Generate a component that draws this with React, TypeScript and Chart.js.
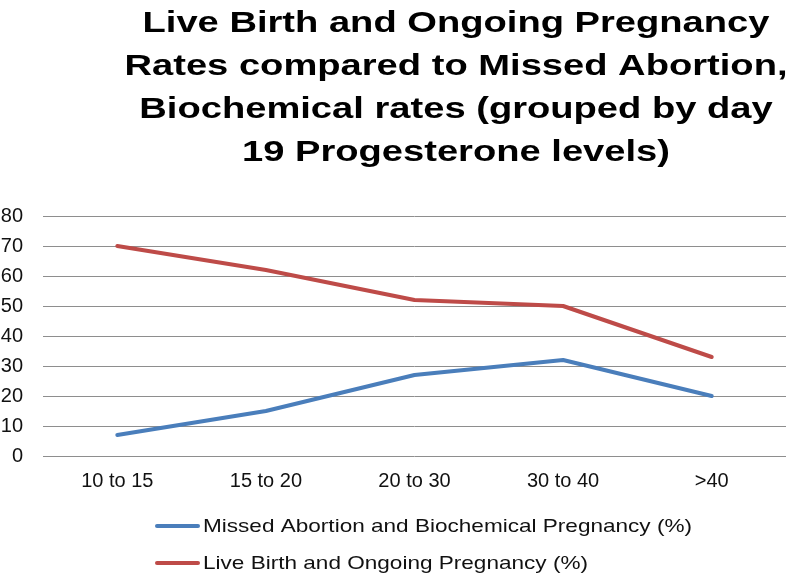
import React, { useEffect, useRef } from "react";
import { Chart, registerables } from "chart.js";

Chart.register(...registerables);

const categories = ["10 to 15", "15 to 20", "20 to 30", "30 to 40", ">40"];
const missedAbortion = [7, 15, 27, 32, 20];
const liveBirth = [70, 62, 52, 50, 33];
const seriesLabels = [
  "Missed Abortion and Biochemical Pregnancy (%)",
  "Live Birth and Ongoing Pregnancy (%)",
];
const seriesColors = ["#4a7ebb", "#be4b48"];
const titleLines = [
  "Live Birth and Ongoing Pregnancy",
  "Rates compared to Missed Abortion,",
  "Biochemical rates (grouped by day",
  "19 Progesterone levels)",
];
const yMin = 0;
const yMax = 80;
const yStep = 10;

const FONT = '"Liberation Sans", Arial, Helvetica, sans-serif';

const titleLegendPlugin = {
  id: "titleLegend",
  afterDraw(chart: any) {
    const ctx = chart.ctx;
    ctx.save();
    ctx.fillStyle = "#000";
    ctx.font = `bold 30px ${FONT}`;
    ctx.textAlign = "center";
    ctx.textBaseline = "alphabetic";
    const tw = ctx.measureText(titleLines[0]).width;
    const tsx = 627 / tw;
    titleLines.forEach((line, i) => {
      ctx.save();
      ctx.translate(456, 32 + i * 43);
      ctx.scale(tsx, 1);
      ctx.fillText(line, 0, 0);
      ctx.restore();
    });
    ctx.font = `19px ${FONT}`;
    ctx.textAlign = "left";
    ctx.textBaseline = "middle";
    const lw = ctx.measureText(seriesLabels[0]).width;
    const lsx = 489 / lw;
    chart.data.datasets.forEach((ds: any, i: number) => {
      const y = 526 + i * 37;
      ctx.strokeStyle = ds.borderColor;
      ctx.lineWidth = 4;
      ctx.lineCap = "round";
      ctx.beginPath();
      ctx.moveTo(157, y);
      ctx.lineTo(198, y);
      ctx.stroke();
      ctx.fillStyle = "#111";
      ctx.save();
      ctx.translate(203, y + 1);
      ctx.scale(lsx, 1);
      ctx.fillText(ds.label, 0, 0);
      ctx.restore();
    });
    ctx.restore();
  },
};

export default function App() {
  const ref = useRef<HTMLCanvasElement>(null);
  useEffect(() => {
    document.body.style.margin = "0";
    const chart = new Chart(ref.current as HTMLCanvasElement, {
      type: "line",
      data: {
        labels: categories,
        datasets: [
          {
            label: seriesLabels[0],
            data: missedAbortion,
            borderColor: seriesColors[0],
            backgroundColor: seriesColors[0],
            borderWidth: 4,
            pointRadius: 0,
            tension: 0,
            borderCapStyle: "round",
            borderJoinStyle: "round",
          },
          {
            label: seriesLabels[1],
            data: liveBirth,
            borderColor: seriesColors[1],
            backgroundColor: seriesColors[1],
            borderWidth: 4,
            pointRadius: 0,
            tension: 0,
            borderCapStyle: "round",
            borderJoinStyle: "round",
          },
        ],
      },
      options: {
        animation: false,
        responsive: false,
        layout: { padding: { top: 216, right: 13, left: 0, bottom: 0 } },
        plugins: {
          legend: { display: false },
          title: { display: false },
          tooltip: { enabled: false },
        },
        scales: {
          x: {
            offset: true,
            grid: { display: false, drawTicks: false },
            border: { display: false },
            ticks: {
              color: "#111",
              font: { family: FONT, size: 20 },
              padding: 13,
              maxRotation: 0,
            },
            afterFit(scale: any) {
              scale.height = 120;
            },
          },
          y: {
            min: yMin,
            max: yMax,
            grid: { color: "#8e8e8e", lineWidth: 1, drawTicks: false },
            border: { display: false },
            ticks: {
              stepSize: yStep,
              color: "#111",
              font: { family: FONT, size: 20 },
              padding: 20,
            },
            afterFit(scale: any) {
              scale.width = 43;
            },
          },
        },
      },
      plugins: [titleLegendPlugin],
    } as any);
    return () => chart.destroy();
  }, []);
  return (
    <div style={{ width: 799, height: 576, background: "#fff" }}>
      <canvas ref={ref} width={799} height={576} />
    </div>
  );
}
